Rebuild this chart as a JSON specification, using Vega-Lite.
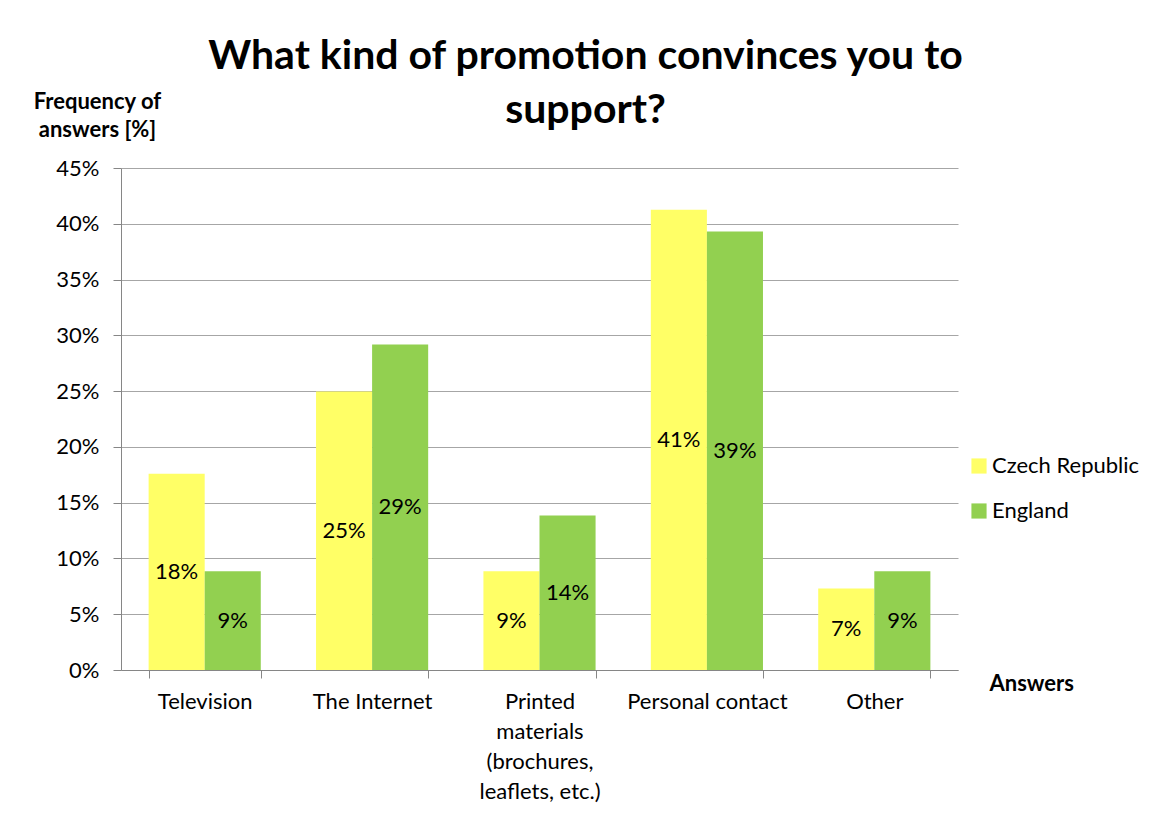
{
  "$schema": "https://vega.github.io/schema/vega-lite/v6.json",
  "autosize": "none",
  "padding": {"left": 121, "top": 168, "right": 202, "bottom": 162},
  "width": 837,
  "height": 502,
  "background": "white",
  "title": {
    "text": ["What kind of promotion convinces you to", "support?"],
    "anchor": "middle",
    "dx": 46,
    "dy": 46,
    "font": "Lato",
    "fontSize": 41,
    "fontWeight": "bold",
    "color": "black",
    "lineHeight": 54
  },
  "data": {
    "values": [
      {"answer": "Television", "country": "Czech Republic", "value": 0.176},
      {"answer": "Television", "country": "England", "value": 0.0885},
      {"answer": "The Internet", "country": "Czech Republic", "value": 0.2496},
      {"answer": "The Internet", "country": "England", "value": 0.2917},
      {"answer": "Printed materials (brochures, leaflets, etc.)", "country": "Czech Republic", "value": 0.0885},
      {"answer": "Printed materials (brochures, leaflets, etc.)", "country": "England", "value": 0.1384},
      {"answer": "Personal contact", "country": "Czech Republic", "value": 0.4126},
      {"answer": "Personal contact", "country": "England", "value": 0.393},
      {"answer": "Other", "country": "Czech Republic", "value": 0.073},
      {"answer": "Other", "country": "England", "value": 0.0885}
    ]
  },
  "encoding": {
    "x": {
      "field": "answer",
      "type": "nominal",
      "sort": null,
      "scale": {"paddingInner": 0.33, "paddingOuter": 0.165},
      "axis": {
        "title": "Answers",
        "titleFont": "Lato",
        "titleFontSize": 22,
        "titleFontWeight": "bold",
        "titleColor": "black",
        "titleAlign": "left",
        "titleBaseline": "middle",
        "titleAnchor": null,
        "titleX": 868,
        "titleY": 13,
        "labelAngle": 0,
        "labelFont": "Lato",
        "labelFontSize": 22,
        "labelColor": "black",
        "labelPadding": 13,
        "labelLineHeight": 30,
        "labelBaseline": "top",
        "labelExpr": "datum.label == 'Printed materials (brochures, leaflets, etc.)' ? ['Printed', 'materials', '(brochures,', 'leaflets, etc.)'] : datum.label",
        "tickBand": "extent",
        "tickSize": 8,
        "tickColor": "#868686",
        "domainColor": "#868686",
        "grid": false
      }
    },
    "xOffset": {"field": "country", "type": "nominal", "scale": {"paddingInner": 0, "paddingOuter": 0}}
  },
  "layer": [
    {
      "mark": {"type": "bar"},
      "encoding": {
        "y": {
          "field": "value",
          "type": "quantitative",
          "scale": {"domain": [0, 0.45], "nice": false},
          "axis": {
            "values": [0, 0.05, 0.1, 0.15, 0.2, 0.25, 0.3, 0.35, 0.4, 0.45],
            "format": ".0%",
            "title": ["Frequency of", "answers [%]"],
            "titleFont": "Lato",
            "titleFontSize": 22,
            "titleFontWeight": "bold",
            "titleColor": "black",
            "titleAngle": 0,
            "titleAlign": "center",
            "titleBaseline": "alphabetic",
            "titleAnchor": null,
            "titleLineHeight": 28,
            "titleX": -24,
            "titleY": -60,
            "labelFont": "Lato",
            "labelFontSize": 22,
            "labelColor": "black",
            "labelPadding": 14,
            "tickSize": 8,
            "tickColor": "#868686",
            "domainColor": "#868686",
            "grid": true,
            "gridColor": "#a6a6a6"
          }
        },
        "color": {
          "field": "country",
          "type": "nominal",
          "scale": {"domain": ["Czech Republic", "England"], "range": ["#ffff66", "#92d050"]},
          "legend": {
            "title": null,
            "orient": "none",
            "legendX": 847,
            "legendY": 287,
            "symbolType": "square",
            "symbolSize": 230,
            "symbolStrokeWidth": 0,
            "labelFont": "Lato",
            "labelFontSize": 22,
            "labelColor": "black",
            "labelOffset": 2,
            "rowPadding": 23
          }
        }
      }
    },
    {
      "transform": [{"calculate": "datum.value / 2", "as": "mid"}],
      "mark": {"type": "text", "font": "Lato", "fontSize": 22, "color": "black", "baseline": "middle"},
      "encoding": {
        "y": {"field": "mid", "type": "quantitative"},
        "text": {"field": "value", "type": "quantitative", "format": ".0%"}
      }
    }
  ],
  "config": {
    "view": {"stroke": null},
    "axis": {"domainWidth": 1, "tickWidth": 1, "gridWidth": 1}
  }
}
